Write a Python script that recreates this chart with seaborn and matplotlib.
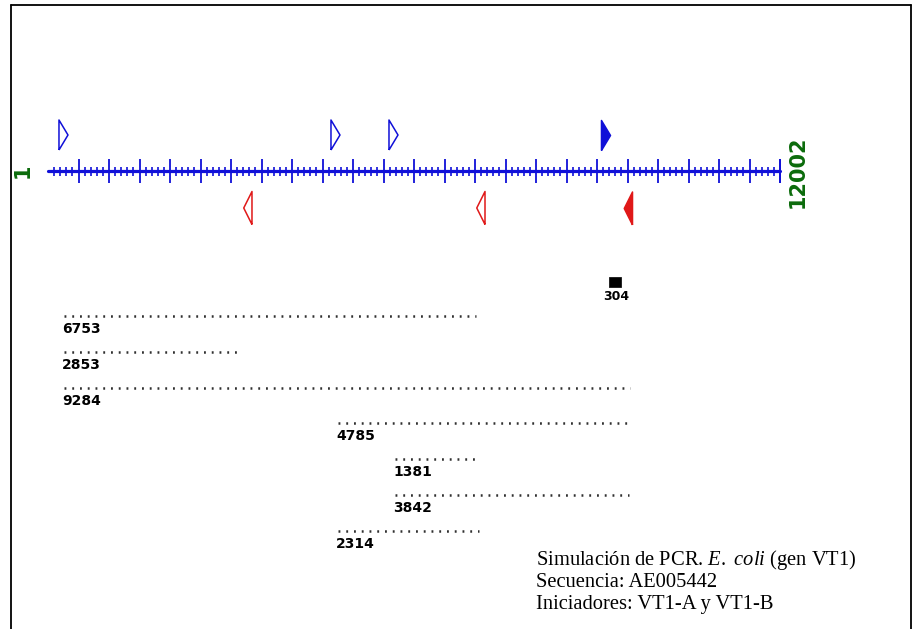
import numpy as np
import pandas as pd
import matplotlib
matplotlib.use("Agg")
import matplotlib.pyplot as plt
from matplotlib.lines import Line2D
from matplotlib import font_manager
import seaborn as sns

# ---------------- data ----------------
seq_length = 12002
seq_start_label = "1"
seq_end_label = "12002"

forward_primers = [180, 4639, 5590, 9066]
forward_filled = [False, False, False, True]
reverse_primers = [3344, 7164, 9574]
reverse_filled = [False, False, True]

product_sizes = [6753, 2853, 9284, 4785, 1381, 3842, 2314]
product_starts = [262, 262, 262, 4754, 5689, 5689, 4754]

target_size = 304
target_start = 9150

caption_lines = [
    r"Simulación de PCR. $\mathit{E.}$ $\mathit{coli}$ (gen VT1)",
    "Secuencia: AE005442",
    "Iniciadores: VT1-A y VT1-B",
]

# ---------------- style ----------------
sns.set_style("white")
plt.rcParams["font.family"] = ["DejaVu Sans"]
plt.rcParams["mathtext.fontset"] = "custom"
plt.rcParams["mathtext.rm"] = "Liberation Serif"
plt.rcParams["mathtext.it"] = "Liberation Serif:italic"

installed = {f.name for f in font_manager.fontManager.ttflist}
narrow = "Liberation Sans Narrow" if "Liberation Sans Narrow" in installed else "DejaVu Sans"
end_size = 19 if narrow == "Liberation Sans Narrow" else 15

BLUE = "#1010d8"
RED = "#e01818"
GREEN = "#0b6b0b"

W, H = 913, 629
fig = plt.figure(figsize=(W / 100, H / 100), dpi=100)
ax = fig.add_axes([0, 0, 1, 1])

# horizontal scale: 0.061 px per bp, bp 0 at px 48
px_per_bp = 0.061
x0_px = 48
ax.set_xlim(-x0_px / px_per_bp, (W - x0_px) / px_per_bp)
ax.set_ylim(H, 0)
ax.axis("off")

def px(n):
    return n / px_per_bp

axis_y = 171

# ---------------- sequence axis ----------------
axis_df = pd.DataFrame({"x": [1, seq_length], "y": [axis_y, axis_y]})
sns.lineplot(data=axis_df, x="x", y="y", color=BLUE, lw=2.3, ax=ax,
             estimator=None, sort=False)
minor = np.arange(100, seq_length, 100)
minor = minor[minor % 500 != 0]
major = np.append(np.arange(500, seq_length, 500), seq_length)
ax.vlines(minor, axis_y - 4.5, axis_y + 4.5, color=BLUE, lw=1.2)
ax.vlines(major, axis_y - 12, axis_y + 12, color=BLUE, lw=1.3)

ax.text(-px(25), axis_y, seq_start_label, rotation=90, ha="center", va="center",
        color=GREEN, fontsize=end_size, fontweight="bold", family=narrow)
ax.text(seq_length + px(18), axis_y + 1, seq_end_label, rotation=90, ha="center",
        va="center", color=GREEN, fontsize=end_size, fontweight="bold",
        family=narrow)

# ---------------- primers ----------------
fwd_marker = [(0, -1), (0, 1), (0.6, 0), (0, -1)]
rev_marker = [(0, -1), (0, 1), (-0.5, 0), (0, -1)]
fwd_y = 135
rev_y = 208

for x, filled in zip(forward_primers, forward_filled):
    sns.scatterplot(x=[x], y=[fwd_y], marker=fwd_marker, s=467, ax=ax,
                    facecolors=BLUE if filled else "none", edgecolors=BLUE,
                    linewidths=1.1, legend=False)
for x, filled in zip(reverse_primers, reverse_filled):
    sns.scatterplot(x=[x], y=[rev_y], marker=rev_marker, s=564, ax=ax,
                    facecolors=RED if filled else "none", edgecolors=RED,
                    linewidths=1.1, legend=False)

# ---------------- target product ----------------
sq_marker = [(-1, -0.75), (1, -0.75), (1, 0.75), (-1, 0.75), (-1, -0.75)]
sns.scatterplot(x=[target_start + target_size / 2], y=[282], marker=sq_marker,
                s=75, color="black", edgecolors="black", linewidths=0.5,
                ax=ax, legend=False)
ax.text(target_start - px(3), 297, str(target_size), ha="left", va="center",
        fontsize=9, fontweight="bold", color="black")

# ---------------- products ----------------
row_y0 = 316
row_step = 35.8
rows = []
for i, (st, sz) in enumerate(zip(product_starts, product_sizes)):
    y = row_y0 + i * row_step
    rows.append({"prod": i, "x": st, "y": y})
    rows.append({"prod": i, "x": st + sz, "y": y})
prod_df = pd.DataFrame(rows)
sns.lineplot(data=prod_df, x="x", y="y", units="prod", estimator=None,
             sort=False, color="#303030", lw=1.8, linestyle=(0, (0.75, 2.35)),
             dash_capstyle="butt", ax=ax, legend=False)
for i, (st, sz) in enumerate(zip(product_starts, product_sizes)):
    y = row_y0 + i * row_step
    ax.text(st - px(2), y + 13, str(sz), ha="left", va="center",
            fontsize=10, fontweight="bold", color="black")

# ---------------- caption ----------------
cap_x = (536 - x0_px) / px_per_bp
for i, line in enumerate(caption_lines):
    ax.text(cap_x, 565 + i * 22, line, ha="left", va="baseline",
            fontsize=14.8, family="Liberation Serif", color="black")

# ---------------- frame ----------------
for (xa, ya), (xb, yb) in [((11, 5), (11, H + 5)), ((11, 5), (911, 5)),
                           ((911, 5), (911, H + 5))]:
    fig.add_artist(Line2D([xa / W, xb / W], [1 - ya / H, 1 - yb / H],
                          color="black", lw=1.3, transform=fig.transFigure))

fig.savefig("out.png", dpi=100)
